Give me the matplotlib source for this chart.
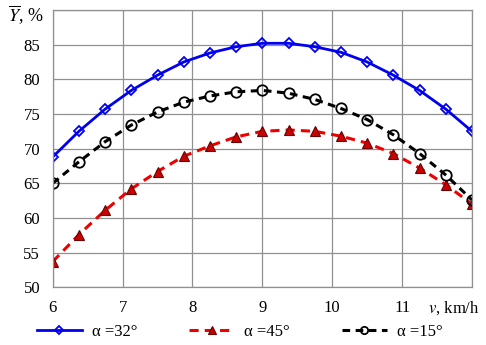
import matplotlib
matplotlib.use('Agg')
import matplotlib.pyplot as plt
import numpy as np

plt.rcParams['font.family'] = ['Liberation Serif', 'DejaVu Serif']
plt.rcParams['mathtext.fontset'] = 'stix'

# speed, km/h
speed = [6.0, 6.375, 6.75, 7.125, 7.5, 7.875, 8.25, 8.625, 9.0,
         9.375, 9.75, 10.125, 10.5, 10.875, 11.25, 11.625, 12.0]

y_32 = [68.8, 72.5, 75.7, 78.4, 80.6, 82.5, 83.8, 84.7, 85.2,
        85.2, 84.7, 83.9, 82.5, 80.6, 78.4, 75.7, 72.5]
y_45 = [53.7, 57.6, 61.1, 64.2, 66.7, 68.9, 70.4, 71.7, 72.5,
        72.7, 72.5, 71.8, 70.8, 69.3, 67.2, 64.8, 62.0]
y_15 = [65.0, 68.1, 71.0, 73.4, 75.3, 76.7, 77.6, 78.2, 78.4,
        78.0, 77.1, 75.8, 74.2, 72.0, 69.3, 66.2, 62.6]

labels = ['α =32°', 'α =45°', 'α =15°']
x_ticks = [6, 7, 8, 9, 10, 11, 12]
y_ticks = [50, 55, 60, 65, 70, 75, 80, 85, 90]

fig = plt.figure(figsize=(4.86, 3.45), dpi=100)
ax = fig.add_axes([0.1084, 0.1672, 0.8628, 0.8038])

ax.plot(speed, y_32, color='#0000ee', lw=2.0, marker='D', ms=5.5,
        mfc='none', mec='#0000ee', mew=1.3, label=labels[0])
ax.plot(speed, y_45, color='#ee0000', lw=2.2, dashes=(3, 2), marker='^', ms=7.5,
        mfc='#cc0000', mec='#660000', mew=0.8, label=labels[1])
ax.plot(speed, y_15, color='black', lw=2.2, dashes=(2.5, 1.8), marker='o', ms=7.5,
        mfc='none', mec='black', mew=1.3, label=labels[2])

ax.set_xlim(6, 12)
ax.set_ylim(50, 90)
ax.set_xticks(x_ticks)
ax.set_yticks(y_ticks)
ax.set_xticklabels([str(t) for t in x_ticks[:-1]] + [''])
ax.set_yticklabels([str(t) for t in y_ticks[:-1]] + [''])
ax.tick_params(length=0, labelsize=12, pad=9)
ax.grid(True, color='#909090', lw=0.9)
for s in ax.spines.values():
    s.set_color('#909090')
    s.set_linewidth(0.9)

fig.text(8 / 486, 1 - 15 / 345, r'$\overline{Y}$, %', fontsize=13,
         ha='left', va='center')
fig.text(480 / 486, 1 - 308 / 345, r'$v$, km/h', fontsize=12,
         ha='right', va='center')

fig.legend(loc='center', bbox_to_anchor=(0.493, 1 - 332 / 345), ncol=3,
           frameon=False, fontsize=12, handlelength=2.7, columnspacing=3.1,
           handletextpad=0.6, numpoints=1, markerscale=0.7)

fig.savefig('out.png', dpi=100)
